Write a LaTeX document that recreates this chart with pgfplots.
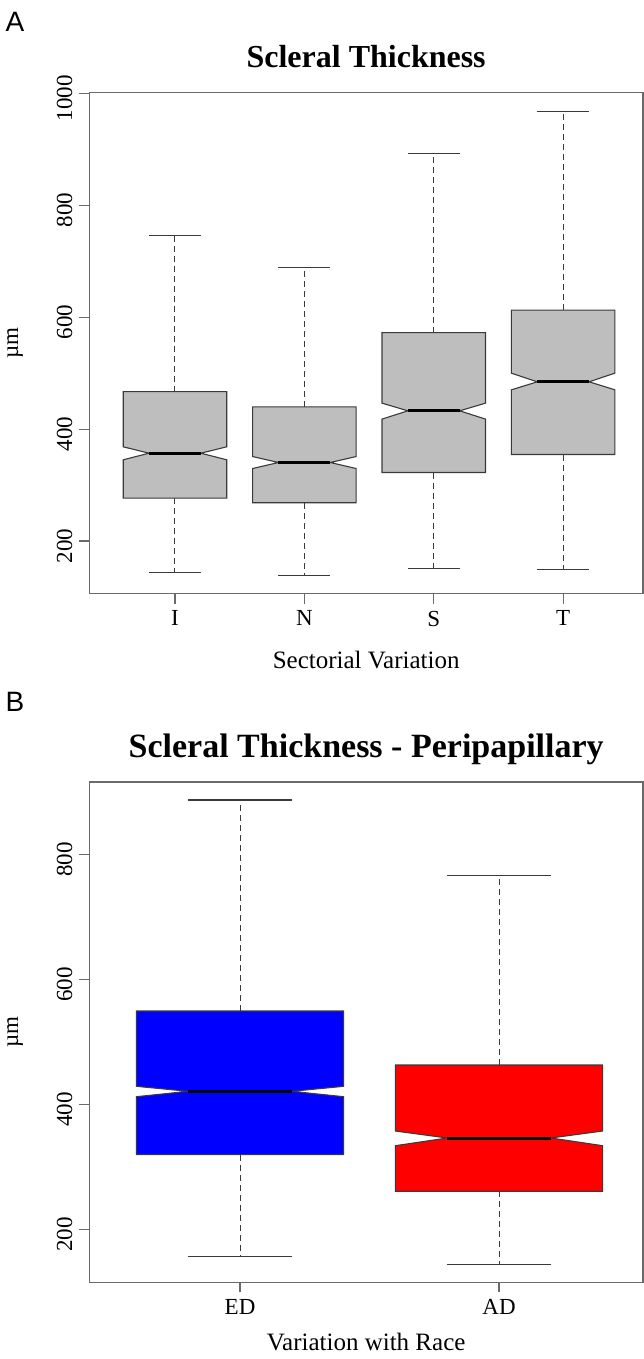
\documentclass[border=0pt]{standalone}
\usepackage{fontspec}
\setmainfont{Liberation Serif}
\newfontfamily\arialfont{Liberation Sans}
\usepackage{pgfplots}
\pgfplotsset{compat=1.18}
\definecolor{boxgray}{HTML}{BEBEBE}
\definecolor{edgegray}{HTML}{3A3A3A}
\definecolor{axgray}{HTML}{6A6A6A}
\definecolor{rblue}{HTML}{0000FF}
\definecolor{rred}{HTML}{FF0000}

% notched box: x, lower whisker, q1, notch low, median, notch high, q3, upper whisker, fill
\newcommand\nbox[9]{%
  \pgfmathsetmacro\xL{#1-0.4}\pgfmathsetmacro\xR{#1+0.4}%
  \pgfmathsetmacro\xl{#1-0.2}\pgfmathsetmacro\xr{#1+0.2}%
  \addplot[whisk] coordinates {(#1,#7) (#1,#8)};
  \addplot[whisk] coordinates {(#1,#3) (#1,#2)};
  \addplot[capst] coordinates {(\xl,#8) (\xr,#8)};
  \addplot[capst] coordinates {(\xl,#2) (\xr,#2)};
  \addplot[fill=#9, draw=edgegray, line width=0.55pt] coordinates {(\xL,#3) (\xL,#4) (\xl,#5) (\xL,#6) (\xL,#7) (\xR,#7) (\xR,#6) (\xr,#5) (\xR,#4) (\xR,#3)} -- cycle;
  \addplot[black, line width=1.5pt] coordinates {(\xl,#5) (\xr,#5)};
}

\pgfplotsset{
  whisk/.style={draw=edgegray, line width=0.5pt, dash pattern=on 3pt off 2pt},
  capst/.style={draw=edgegray, line width=0.55pt},
  rstyle/.style={
    scale only axis,
    axis line style={draw=axgray, line width=0.6pt},
    tick style={draw=axgray, line width=0.6pt},
    tick align=outside,
    major tick length=5pt,
    xtick pos=bottom, ytick pos=left,
    font=\rmfamily\fontsize{11.5}{13}\selectfont,
    tick label style={font=\rmfamily\fontsize{11.5}{13}\selectfont},
    yticklabel style={rotate=90, anchor=south, xshift=-2.5pt},
    ytick={200,400,600,800,1000},
    yticklabels={200,400,600,800,1000},
    ylabel={µm},
    every axis y label/.style={at={(axis description cs:-0.134,0.5)}, rotate=90, anchor=center, font=\rmfamily\fontsize{11.5}{13}\selectfont},
    every axis x label/.style={at={(axis description cs:0.5,-0.150)}, anchor=base, font=\rmfamily\fontsize{12.5}{14}\selectfont},
    every axis title/.style={at={(axis description cs:0.5,1.05)}, anchor=base, font=\bfseries\fontsize{16}{18}\selectfont},
    clip=false,
  },
}

\begin{document}
\begin{tikzpicture}
\useasboundingbox (0,0) rectangle (321.5pt,-679.5pt);
\node[font=\arialfont\fontsize{14}{16}\selectfont] at (7.5pt,-11pt) {A};
\node[font=\arialfont\fontsize{14}{16}\selectfont] at (7.5pt,-351pt) {B};

\begin{axis}[rstyle,
  at={(44.65pt,-296.85pt)}, anchor=south west,
  width=276.85pt, height=250.5pt,
  xmin=0.338, xmax=4.617, ymin=106, ymax=1001,
  xtick={1,2,3,4}, xticklabels={I,N,S,T},
  title={Scleral Thickness},
  xlabel={Sectorial Variation},
]
\nbox{1}{144}{276.8}{345.2}{357}{368.4}{467}{745.7}{boxgray}
\nbox{2}{139.3}{268.4}{329.6}{340.4}{351}{439.8}{688}{boxgray}
\nbox{3}{151.1}{322.5}{417.9}{432.7}{446.4}{572.5}{891.6}{boxgray}
\nbox{4}{150}{354.6}{470.2}{484.5}{500}{612.5}{967.9}{boxgray}
\end{axis}

\begin{axis}[rstyle,
  at={(44.65pt,-641.15pt)}, anchor=south west,
  width=276.85pt, height=250.15pt,
  xmin=0.418, xmax=2.556, ymin=115.2, ymax=915.7,
  xtick={1,2}, xticklabels={ED,AD},
  ytick={200,400,600,800}, yticklabels={200,400,600,800},
  title={Scleral Thickness - Peripapillary},
  every axis title/.style={at={(axis description cs:0.5,1.05)}, anchor=base, font=\bfseries\fontsize{17}{19}\selectfont},
  every axis x label/.style={at={(axis description cs:0.5,-0.137)}, anchor=base, font=\rmfamily\fontsize{12.5}{14}\selectfont},
  xlabel={Variation with Race},
]
\nbox{1}{156.2}{319.5}{412.2}{420.8}{428.8}{549.3}{886.9}{rblue}
\nbox{2}{144}{260.8}{333.8}{346.1}{357.3}{462.9}{766.1}{rred}
\end{axis}
\end{tikzpicture}
\end{document}
